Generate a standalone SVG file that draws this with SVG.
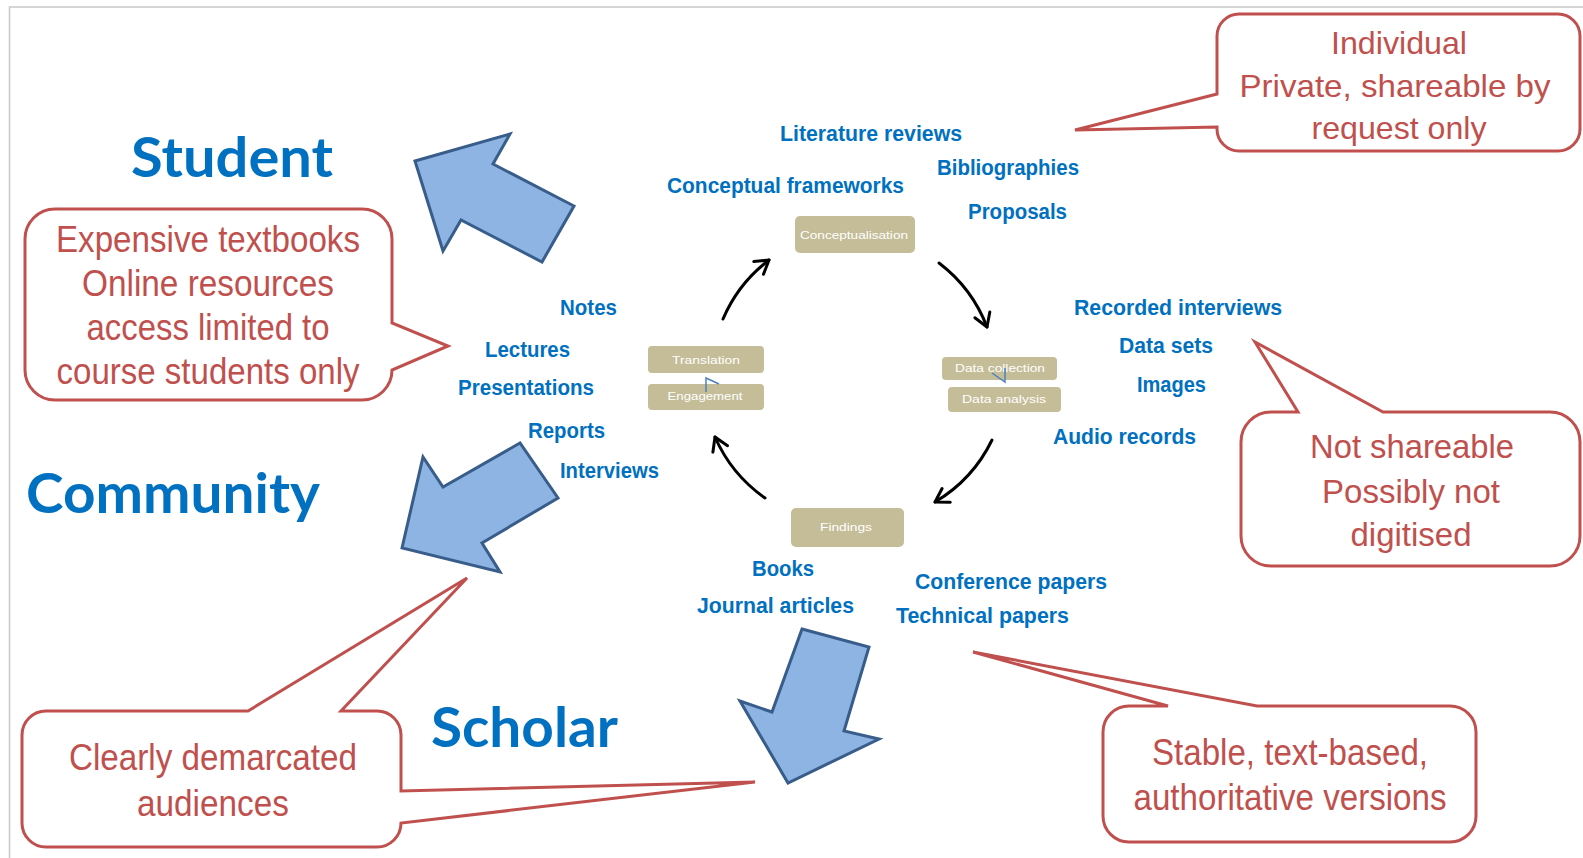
<svg xmlns="http://www.w3.org/2000/svg" width="1583" height="858" viewBox="0 0 1583 858">
<style>
.title{font-family:Lato,"Open Sans","Liberation Sans",sans-serif;font-weight:bold;font-size:55px;fill:#0070c0}
.lbl{font-family:"Liberation Sans",Arial,sans-serif;font-weight:bold;font-size:22px;fill:#0070c0}
.co{fill:#fff;stroke:#c0504d;stroke-width:3;stroke-linejoin:miter}
.ct{font-family:"Liberation Sans Narrow","Liberation Sans",Arial,sans-serif;fill:#c0504d;text-anchor:middle}
.cr{font-family:"Liberation Sans",Arial,sans-serif;fill:#c0504d;text-anchor:middle}
.big{fill:#8eb4e3;stroke:#385d8a;stroke-width:3;stroke-linejoin:miter}
.box{fill:#c4bd97}
.bt{font-family:"Liberation Sans",Arial,sans-serif;font-size:11px;fill:#fff;text-anchor:middle}
.cyc{fill:none;stroke:#000;stroke-width:3;stroke-linecap:round}
.glitch{fill:none;stroke:#4f81bd;stroke-width:1.5}
</style>
<defs>
<marker id="ah" viewBox="-16 -10 20 20" refX="0" refY="0" markerWidth="20" markerHeight="20" markerUnits="userSpaceOnUse" orient="auto">
<path d="M -13,-8 L 0,0 L -13,8" fill="none" stroke="#000" stroke-width="3" stroke-linecap="round" stroke-linejoin="round"/>
</marker>
</defs>
<rect x="0" y="0" width="1583" height="858" fill="#fff"/>
<path d="M 9.5,858 V 7 H 1583" fill="none" stroke="#c8c8c8" stroke-width="1.5"/>

<g id="title-student"><text class="title" x="131" y="177" textLength="202" lengthAdjust="spacingAndGlyphs">Student</text></g>
<g id="title-community"><text class="title" x="26" y="513" textLength="294" lengthAdjust="spacingAndGlyphs">Community</text></g>
<g id="title-scholar"><text class="title" x="431" y="747" textLength="187" lengthAdjust="spacingAndGlyphs">Scholar</text></g>

<g id="arrow-student"><polygon class="big" points="415,161 510,134 493,164 574,206 542,262 461,220 443,251"/></g>
<g id="arrow-community"><polygon class="big" points="402,548 423,457 443,487 520,443 558,498 482,543 500,572"/></g>
<g id="arrow-scholar"><polygon class="big" points="802,629 869,647 844,731 879,739 788,783 740,701 772,712"/></g>

<g id="callout-individual">
<path class="co" d="M 1239,14 H 1558 A 22 22 0 0 1 1580,36 V 129 A 22 22 0 0 1 1558,151 H 1239 A 22 22 0 0 1 1217,129 V 127 L 1075,130 L 1217,94 V 36 A 22 22 0 0 1 1239,14 Z"/>
<text class="cr" font-size="32" x="1399" y="54" textLength="136" lengthAdjust="spacingAndGlyphs">Individual</text>
<text class="cr" font-size="32" x="1395" y="97" textLength="311" lengthAdjust="spacingAndGlyphs">Private, shareable by</text>
<text class="cr" font-size="32" x="1399" y="139" textLength="175" lengthAdjust="spacingAndGlyphs">request only</text>
</g>

<g id="callout-student">
<path class="co" d="M 55,209 H 362 A 30 30 0 0 1 392,239 V 323 L 448,346 L 392,370 A 30 30 0 0 1 362,400 H 55 A 30 30 0 0 1 25,370 V 239 A 30 30 0 0 1 55,209 Z"/>
<text class="ct" font-size="37" x="208" y="252" textLength="304" lengthAdjust="spacingAndGlyphs">Expensive textbooks</text>
<text class="ct" font-size="37" x="208" y="296" textLength="252" lengthAdjust="spacingAndGlyphs">Online resources</text>
<text class="ct" font-size="37" x="208" y="340" textLength="243" lengthAdjust="spacingAndGlyphs">access limited to</text>
<text class="ct" font-size="37" x="208" y="384" textLength="303" lengthAdjust="spacingAndGlyphs">course students only</text>
</g>

<g id="callout-notshareable">
<path class="co" d="M 1271,412 H 1298 L 1255,342 L 1383,412 H 1550 A 30 30 0 0 1 1580,442 V 536 A 30 30 0 0 1 1550,566 H 1271 A 30 30 0 0 1 1241,536 V 442 A 30 30 0 0 1 1271,412 Z"/>
<text class="cr" font-size="33" x="1412" y="458" textLength="204" lengthAdjust="spacingAndGlyphs">Not shareable</text>
<text class="cr" font-size="33" x="1411" y="503" textLength="178" lengthAdjust="spacingAndGlyphs">Possibly not</text>
<text class="cr" font-size="33" x="1411" y="546" textLength="121" lengthAdjust="spacingAndGlyphs">digitised</text>
</g>

<g id="callout-audiences">
<path class="co" d="M 46,711 H 248 L 467,578 L 341,711 H 377 A 24 24 0 0 1 401,735 V 791 L 755,782 L 401,823 A 24 24 0 0 1 377,847 H 46 A 24 24 0 0 1 22,823 V 735 A 24 24 0 0 1 46,711 Z"/>
<text class="ct" font-size="36" x="213" y="770" textLength="288" lengthAdjust="spacingAndGlyphs">Clearly demarcated</text>
<text class="ct" font-size="36" x="213" y="816" textLength="152" lengthAdjust="spacingAndGlyphs">audiences</text>
</g>

<g id="callout-stable">
<path class="co" d="M 1129,706 H 1168 L 973,652 L 1257,706 H 1450 A 26 26 0 0 1 1476,732 V 816 A 26 26 0 0 1 1450,842 H 1129 A 26 26 0 0 1 1103,816 V 732 A 26 26 0 0 1 1129,706 Z"/>
<text class="ct" font-size="36" x="1290" y="765" textLength="276" lengthAdjust="spacingAndGlyphs">Stable, text-based,</text>
<text class="ct" font-size="36" x="1290" y="810" textLength="313" lengthAdjust="spacingAndGlyphs">authoritative versions</text>
</g>

<g id="box-conceptualisation"><rect class="box" x="795" y="216" width="120" height="37" rx="5"/><text class="bt" font-size="12" x="854" y="239" textLength="108" lengthAdjust="spacingAndGlyphs">Conceptualisation</text></g>
<g id="box-translation"><rect class="box" x="648" y="346" width="116" height="27" rx="4"/><text class="bt" x="706" y="364" textLength="68" lengthAdjust="spacingAndGlyphs">Translation</text></g>
<g id="box-engagement"><rect class="box" x="648" y="384" width="116" height="26" rx="4"/><text class="bt" x="705" y="400" textLength="75" lengthAdjust="spacingAndGlyphs">Engagement</text></g>
<g id="box-datacollection"><rect class="box" x="942" y="357" width="115" height="23" rx="4"/><text class="bt" x="1000" y="372" textLength="90" lengthAdjust="spacingAndGlyphs">Data collection</text></g>
<g id="box-dataanalysis"><rect class="box" x="948" y="387" width="113" height="25" rx="4"/><text class="bt" x="1004" y="403" textLength="84" lengthAdjust="spacingAndGlyphs">Data analysis</text></g>
<g id="box-findings"><rect class="box" x="791" y="508" width="113" height="39" rx="5"/><text class="bt" x="846" y="531" textLength="52" lengthAdjust="spacingAndGlyphs">Findings</text></g>

<g id="connectors">
<path class="cyc" marker-end="url(#ah)" d="M 723,319 A 146 146 0 0 1 769,260"/>
<path class="cyc" marker-end="url(#ah)" d="M 939,263 A 146 146 0 0 1 987,327"/>
<path class="cyc" marker-end="url(#ah)" d="M 992,440 A 146 146 0 0 1 935,502"/>
<path class="cyc" marker-end="url(#ah)" d="M 765,498 A 146 146 0 0 1 715,437"/>
<path class="glitch" d="M 706,392 V 378 L 719,384"/>
<path class="glitch" d="M 992,373 L 1005,382 V 368"/>
</g>

<g id="labels-conceptualisation">
<text class="lbl" x="780" y="141" textLength="182" lengthAdjust="spacingAndGlyphs">Literature reviews</text>
<text class="lbl" x="937" y="175" textLength="142" lengthAdjust="spacingAndGlyphs">Bibliographies</text>
<text class="lbl" x="667" y="193" textLength="237" lengthAdjust="spacingAndGlyphs">Conceptual frameworks</text>
<text class="lbl" x="968" y="219" textLength="99" lengthAdjust="spacingAndGlyphs">Proposals</text>
</g>
<g id="labels-translation">
<text class="lbl" x="560" y="315" textLength="57" lengthAdjust="spacingAndGlyphs">Notes</text>
<text class="lbl" x="485" y="357" textLength="85" lengthAdjust="spacingAndGlyphs">Lectures</text>
<text class="lbl" x="458" y="395" textLength="136" lengthAdjust="spacingAndGlyphs">Presentations</text>
<text class="lbl" x="528" y="438" textLength="77" lengthAdjust="spacingAndGlyphs">Reports</text>
<text class="lbl" x="560" y="478" textLength="99" lengthAdjust="spacingAndGlyphs">Interviews</text>
</g>
<g id="labels-data">
<text class="lbl" x="1074" y="315" textLength="208" lengthAdjust="spacingAndGlyphs">Recorded interviews</text>
<text class="lbl" x="1119" y="353" textLength="94" lengthAdjust="spacingAndGlyphs">Data sets</text>
<text class="lbl" x="1137" y="392" textLength="69" lengthAdjust="spacingAndGlyphs">Images</text>
<text class="lbl" x="1053" y="444" textLength="143" lengthAdjust="spacingAndGlyphs">Audio records</text>
</g>
<g id="labels-findings">
<text class="lbl" x="752" y="576" textLength="62" lengthAdjust="spacingAndGlyphs">Books</text>
<text class="lbl" x="697" y="613" textLength="157" lengthAdjust="spacingAndGlyphs">Journal articles</text>
<text class="lbl" x="915" y="589" textLength="192" lengthAdjust="spacingAndGlyphs">Conference papers</text>
<text class="lbl" x="896" y="623" textLength="173" lengthAdjust="spacingAndGlyphs">Technical papers</text>
</g>
</svg>
